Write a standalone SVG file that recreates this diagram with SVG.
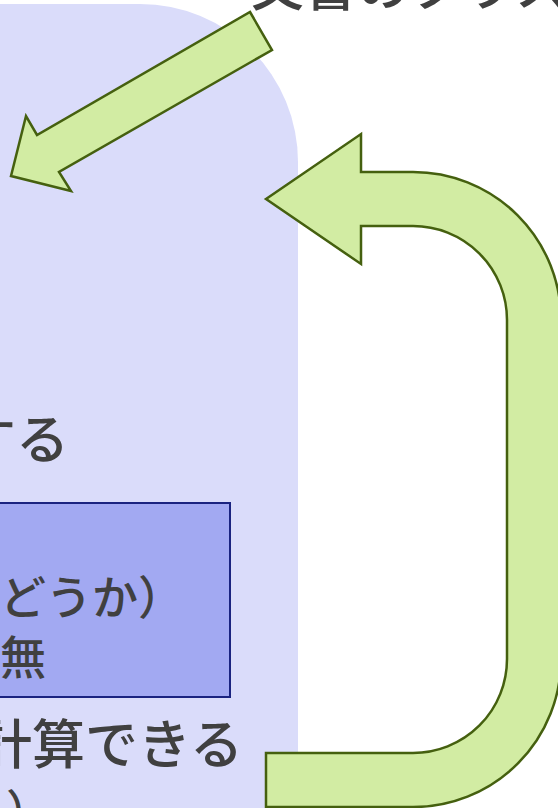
<svg xmlns="http://www.w3.org/2000/svg" width="558" height="808" viewBox="0 0 558 808">
<style>
.t{font-family:"Noto Sans CJK JP","Noto Sans",sans-serif;fill:#404040;font-weight:500}
.g{fill:#d2eca3;stroke:#45600f;stroke-width:2.5;stroke-linejoin:miter}
</style>
<rect width="558" height="808" fill="#ffffff"/>
<g id="panel">
<rect x="-300" y="4" width="598" height="1000" rx="158" ry="158" fill="#dadcfa"/>
<text class="t" x="69" y="459" font-size="53" text-anchor="end">する</text>
<text class="t" x="243" y="764" font-size="53" text-anchor="end">計算できる</text>
<text class="t" x="6" y="828" font-size="46">）</text>
</g>
<g id="box">
<rect x="-10" y="503" width="240" height="194" fill="#a2a9f2" stroke="#1a2380" stroke-width="2"/>
<text class="t" x="184" y="614" font-size="46" text-anchor="end">どうか）</text>
<text class="t" x="0" y="674" font-size="46">無</text>
</g>
<g id="title">
<text class="t" x="251" y="6" font-size="53">文書のクラスタリング</text>
</g>
<g id="connectors">
<polygon class="g" points="250,12 272,50 59,172 71,191 11,176 26,116 37,135"/>
<path class="g" d="M266,199 L361,134 L361,172 L413,172 A148 148 0 0 1 561,320 L561,659 A148 148 0 0 1 413,807 L266,807 L266,753 L413,753 A94 94 0 0 0 507,659 L507,320 A94 94 0 0 0 413,226 L361,226 L361,264 Z"/>
</g>
</svg>
